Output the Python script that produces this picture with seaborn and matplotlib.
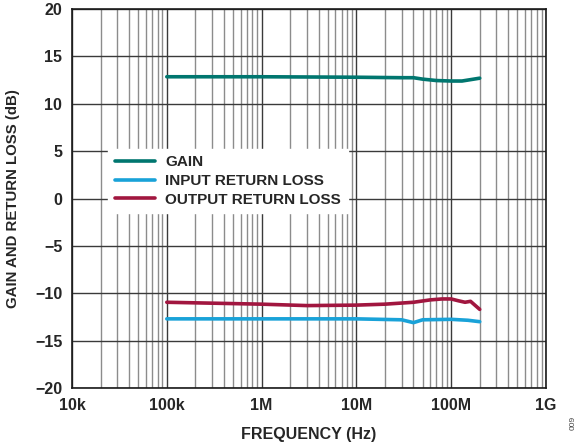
import numpy as np
import pandas as pd
import seaborn as sns
import matplotlib.pyplot as plt
from matplotlib.ticker import FixedLocator, LogLocator, NullFormatter

sns.set_theme(style="white")
plt.rcParams['font.family'] = ['Liberation Sans', 'DejaVu Sans']

# Frequency sweep points (Hz) and measured curves (dB)
gain_freq = [1e5, 1e6, 1e7, 3e7, 4e7, 5e7, 7e7, 1e8, 1.3e8, 2e8]
gain_db = [12.85, 12.85, 12.8, 12.75, 12.75, 12.6, 12.45, 12.4, 12.4, 12.7]

in_freq = [1e5, 1e6, 1e7, 3e7, 4e7, 5e7, 1e8, 1.5e8, 2e8]
in_db = [-12.7, -12.7, -12.7, -12.8, -13.1, -12.8, -12.75, -12.85, -13.0]

out_freq = [1e5, 1e6, 3e6, 1e7, 2e7, 4e7, 6e7, 8e7, 1e8, 1.2e8, 1.4e8, 1.6e8, 2e8]
out_db = [-10.95, -11.15, -11.3, -11.25, -11.15, -10.95, -10.7, -10.6, -10.6,
          -10.8, -10.95, -10.85, -11.7]

series = ["GAIN", "INPUT RETURN LOSS", "OUTPUT RETURN LOSS"]
colors = ["#00766f", "#19a2d8", "#a1163f"]

x_ticks = [1e4, 1e5, 1e6, 1e7, 1e8, 1e9]
x_labels = ["10k", "100k", "1M", "10M", "100M", "1G"]
y_ticks = [-20, -15, -10, -5, 0, 5, 10, 15, 20]

df = pd.concat([
    pd.DataFrame({"freq": gain_freq, "db": gain_db, "trace": series[0]}),
    pd.DataFrame({"freq": in_freq, "db": in_db, "trace": series[1]}),
    pd.DataFrame({"freq": out_freq, "db": out_db, "trace": series[2]}),
])

fig = plt.figure(figsize=(5.83, 4.46), dpi=100)
ax = fig.add_axes([0.1235, 0.130, 0.813, 0.8498])

sns.lineplot(data=df, x="freq", y="db", hue="trace", hue_order=series,
             palette=colors, linewidth=2.6, ax=ax, sort=False, legend=True)

ax.set_xscale("log")
ax.set_xlim(1e4, 1e9)
ax.set_ylim(-20, 20)
ax.xaxis.set_major_locator(FixedLocator(x_ticks))
ax.set_xticklabels(x_labels)
ax.xaxis.set_minor_locator(LogLocator(base=10, subs=np.arange(2, 10)))
ax.xaxis.set_minor_formatter(NullFormatter())
ax.set_yticks(y_ticks)

ax.grid(True, which="major", axis="both", color="#3a3a3a", linewidth=1.0)
ax.grid(True, which="minor", axis="x", color="#8c8c8c", linewidth=1.0)
ax.set_axisbelow(True)
for s in ax.spines.values():
    s.set_color("#1a1a1a")
    s.set_linewidth(1.2)

ax.tick_params(axis="both", which="both", length=0, labelsize=11.5, pad=7)
for lbl in ax.get_xticklabels() + ax.get_yticklabels():
    lbl.set_fontweight("bold")

ax.set_xlabel("FREQUENCY (Hz)", fontsize=11.5, fontweight="bold", labelpad=10)
ax.set_ylabel("GAIN AND RETURN LOSS (dB)", fontsize=10.8, fontweight="bold", labelpad=11)

leg = ax.legend(loc="upper left", bbox_to_anchor=(0.06, 0.652), frameon=True,
                fontsize=11, handlelength=2.6, handletextpad=0.7,
                labelspacing=0.3, borderpad=0.45, fancybox=False)
leg.get_frame().set_facecolor("white")
leg.get_frame().set_edgecolor("white")
leg.get_frame().set_alpha(1.0)
for t in leg.get_texts():
    t.set_fontweight("bold")
for h in leg.get_lines():
    h.set_linewidth(2.6)

fig.text(0.983, 0.035, "009", rotation=90, fontsize=6, color="#444444",
         ha="center", va="bottom")

fig.savefig("out.png", dpi=100)
